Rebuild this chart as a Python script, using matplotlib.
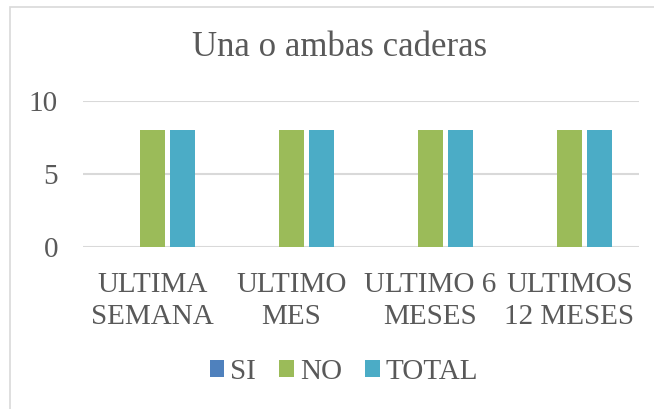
import numpy as np
import matplotlib
matplotlib.use("Agg")
import matplotlib.pyplot as plt
from matplotlib.patches import Rectangle

# data
categories = ["ULTIMA\nSEMANA", "ULTIMO\nMES", "ULTIMO 6\nMESES", "ULTIMOS\n12 MESES"]
series_names = ["SI", "NO", "TOTAL"]
si = [0, 0, 0, 0]
no = [8, 8, 8, 8]
total = [8, 8, 8, 8]
colors = ["#4F81BD", "#9BBB59", "#4BACC6"]

plt.rcParams["font.family"] = ["Liberation Serif", "DejaVu Serif"]
text_color = "#595959"

fig = plt.figure(figsize=(6.54, 4.09), dpi=100)
fig.patches.append(Rectangle((10 / 654, -0.1), 1.2, 1 - 7 / 409 + 0.1,
                             transform=fig.transFigure, fill=False,
                             edgecolor="#D9D9D9", linewidth=1.2))

ax = fig.add_axes([83 / 654, 1 - 247 / 409, (639 - 83) / 654, (247 - 101) / 409])

x = np.arange(len(categories))
width = 0.18
step = 0.218
for i, (vals, name) in enumerate(zip([si, no, total], series_names)):
    ax.bar(x + (i - 1) * step, vals, width, color=colors[i], label=name, zorder=3)

ax.set_xlim(-0.5, len(categories) - 0.5)
ax.set_ylim(0, 10)
ax.set_yticks([0, 5, 10])
ax.set_xticks(x)
ax.set_xticklabels(categories, multialignment="center", linespacing=1.3)
ax.tick_params(axis="both", length=0, labelsize=21, colors=text_color)
ax.tick_params(axis="y", pad=18)
ax.tick_params(axis="x", pad=18)
ax.grid(axis="y", color="#D9D9D9", linewidth=1.5, zorder=0)
for s in ax.spines.values():
    s.set_visible(False)

fig.text(0.519, 1 - 47 / 409, "Una o ambas caderas", ha="center", va="center",
         fontsize=25, color=text_color)

fig.legend(loc="center", bbox_to_anchor=(0.526, 1 - 372 / 409), ncol=3,
           frameon=False, fontsize=21, labelcolor=text_color,
           handlelength=0.5, handleheight=0.5, handletextpad=0.2, columnspacing=0.8)

fig.savefig("out.png", dpi=100)
